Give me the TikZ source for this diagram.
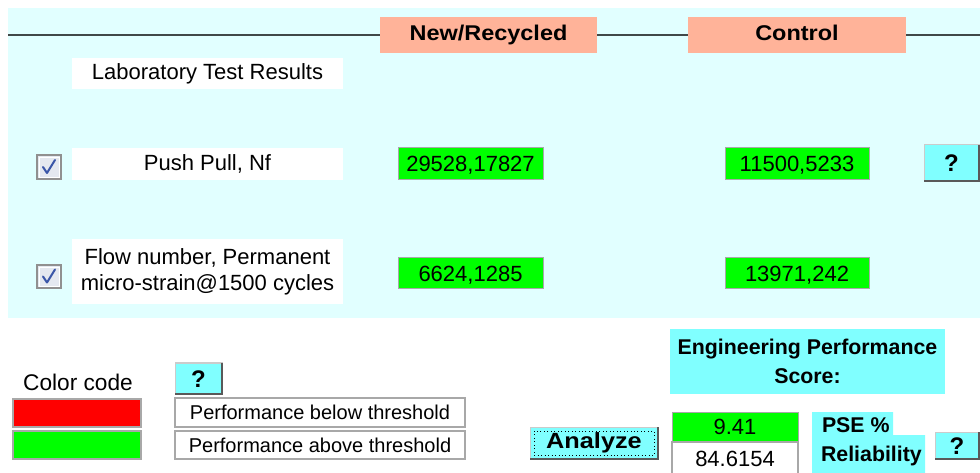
\documentclass[tikz,border=0pt]{standalone}
\usepackage{fontspec}
\setmainfont{Liberation Sans}
\usepackage{graphicx}
\definecolor{bgcyan}{HTML}{E1FFFF}
\definecolor{salmon}{HTML}{FFB399}
\definecolor{vgreen}{HTML}{00FF00}
\definecolor{btncyan}{HTML}{80FFFF}
\definecolor{bordergray}{HTML}{A8A8A8}
\definecolor{chkfill}{HTML}{E4E8F0}
\definecolor{chkgray}{HTML}{909090}
\definecolor{checkblue}{HTML}{3A56A8}
\definecolor{rulegray}{HTML}{404848}
\newcommand\fsreg{\fontsize{16.5}{19.5}\selectfont}
\newcommand\fssmall{\fontsize{15}{18}\selectfont}
\newcommand\fscc{\fontsize{17}{20}\selectfont}
\newcommand\fsbold{\fontsize{16}{22}\selectfont\bfseries}
\newcommand\fsq{\fontsize{18}{20}\selectfont\bfseries}
\newcommand\fsan{\fontsize{16.5}{20}\selectfont\bfseries}
\newcommand\mkbox[7]{\node[#2, minimum width={(#5-#3)*0.75pt}, minimum height={(#6-#4)*0.75pt}] (#1) at ({(#3+#5)/2},{(#4+#6)/2}) {#7};}
\begin{document}
\begin{tikzpicture}[x=0.75pt,y=-0.75pt,
  plain/.style={inner sep=0pt, outer sep=0pt, align=center, font=\fsreg},
  hdr/.style={plain, fill=salmon, font=\fsbold, text height=12pt, text depth=3.5pt},
  wbox/.style={plain, fill=white},
  valbox/.style={plain, fill=vgreen, draw=bordergray, line width=0.75pt, text height=11.8pt, text depth=0pt},
  btn/.style={plain, fill=btncyan, draw=bordergray!60, line width=0.75pt, font=\fsq, text height=13pt, text depth=0pt},
  btnshade/.style={draw=gray!70!black, line width=1.2pt},
  chk/.style={plain, fill=chkfill, draw=chkgray, line width=0.9pt},
  check/.style={draw=checkblue, line width=1.5pt, line cap=round, line join=round},
  legbox/.style={plain, draw=bordergray, line width=0.9pt},
  perfbox/.style={plain, fill=white, draw=bordergray, line width=0.9pt, font=\fssmall},
  epsbox/.style={plain, fill=btncyan, font=\fsbold},
  rulel/.style={draw=rulegray, line width=1.6pt}]
\useasboundingbox (0,0) rectangle (980,473);
\fill[white] (0,0) rectangle (980,473);
\fill[bgcyan] (8,8) rectangle (980,318);
% headers and rule
\mkbox{hNew}{hdr}{380}{17}{597}{53}{\scalebox{1.1}[1]{New/Recycled}}
\mkbox{hCtl}{hdr}{688}{17}{906}{53}{\scalebox{1.1}[1]{Control}}
\coordinate (ruleL) at (8,35);
\coordinate (ruleR) at (980,35);
\draw[rulel] (ruleL) -- (hNew.west);
\draw[rulel] (hNew.east) -- (hCtl.west);
\draw[rulel] (hCtl.east) -- (ruleR);
% labels
\mkbox{lab}{wbox}{72}{58}{343}{89}{Laboratory Test Results}
\mkbox{pp}{wbox}{72}{148}{343}{180}{Push Pull, Nf}
\mkbox{fn}{wbox}{72}{239}{343}{304}{Flow number, Permanent\\micro-strain@1500 cycles}
% checkboxes
\mkbox{c1}{chk}{37}{155}{61}{179}{}
\mkbox{c2}{chk}{37}{265}{61}{288}{}
\foreach \c in {c1,c2}{
  \draw[draw=white, line width=0.6pt] ([shift={(2,2)}]\c.north west) rectangle ([shift={(-2,-2)}]\c.south east);
  \draw[check] ([shift={(-6,0)}]\c.center) -- ([shift={(-2,6)}]\c.center) -- ([shift={(6,-7)}]\c.center);
}
% values
\mkbox{vn1}{valbox}{398}{148}{543}{180}{29528,17827}
\mkbox{vc1}{valbox}{725}{148}{869}{180}{11500,5233}
\mkbox{vn2}{valbox}{398}{258}{543}{289}{6624,1285}
\mkbox{vc2}{valbox}{725}{258}{869}{289}{13971,242}
\mkbox{q1}{btn}{924}{145}{979}{181}{?}
% colour code
\node[plain, font=\fscc] (cc) at (78,382) {Color code};
\mkbox{red}{legbox, fill=red}{13}{399}{141}{427}{}
\mkbox{grn}{legbox, fill=vgreen}{13}{431}{141}{459}{}
\mkbox{q2}{btn}{175}{363}{222}{394}{?}
\mkbox{pb}{perfbox}{175}{398}{465}{427}{Performance below threshold}
\mkbox{pa}{perfbox}{175}{431}{465}{459}{Performance above threshold}
% analyze and score
\mkbox{an}{btn, font=\fsan, text height=12pt, text depth=3.5pt}{530}{427}{658}{459}{\scalebox{1.15}[1]{Analyze}}
\draw[dotted, line width=0.6pt] ([shift={(4,4)}]an.north west) rectangle ([shift={(-4,-4)}]an.south east);
\mkbox{eps}{epsbox}{670}{329}{945}{394}{Engineering Performance\\Score:}
\mkbox{sc}{valbox}{672}{412}{798}{442}{9.41}
\mkbox{rel}{perfbox, font=\fsreg, text height=11.8pt, text depth=0pt}{672}{442}{798}{475}{84.6154}
\fill[btncyan] (812,412) -- (893,412) -- (893,435) -- (925,435) -- (925,473) -- (812,473) -- cycle;
\node[plain, font=\fsbold, anchor=west] (pse) at (822,425) {PSE \%};
\node[plain, font=\fsbold, anchor=west] (relab) at (821,456) {Reliability};
\mkbox{q3}{btn}{935}{432}{979}{459}{?}
\foreach \b in {q1,q2,q3,an}
  \draw[btnshade] (\b.south west) -- (\b.south east) -- (\b.north east);
\end{tikzpicture}
\end{document}
